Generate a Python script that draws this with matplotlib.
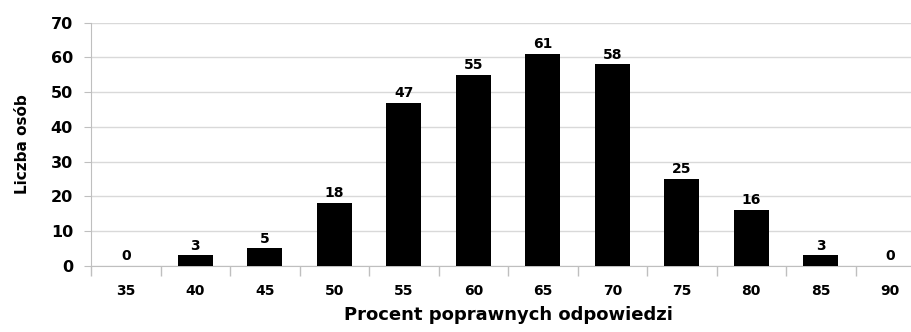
import matplotlib.pyplot as plt
import numpy as np

categories = ["35", "40", "45", "50", "55", "60", "65", "70", "75", "80", "85", "90"]
counts = [0, 3, 5, 18, 47, 55, 61, 58, 25, 16, 3, 0]

plt.rcParams['font.family'] = ['DejaVu Sans']
plt.rcParams['font.weight'] = 'bold'

fig = plt.figure(figsize=(9.12, 3.32), dpi=100)
# plot area runs slightly past the right edge, as in the reference
ax = fig.add_axes([0.0998, 0.1997, 0.9145, 0.7319])

x = np.arange(len(categories))
bars = ax.bar(x, counts, width=0.5, color='black', zorder=3)

for xi, v in zip(x, counts):
    ax.text(xi, v + 0.8, str(v), ha='center', va='bottom', fontsize=10,
            fontweight='bold')

ax.set_xlim(-0.5, len(categories) - 0.5)
ax.set_ylim(0, 70)
ax.set_yticks(np.arange(0, 71, 10))
ax.yaxis.grid(True, color='#d9d9d9', linewidth=1, zorder=0)

ax.set_xticks(x)
ax.set_xticklabels(categories, fontsize=10, fontweight='bold')
ax.tick_params(axis='x', length=0, pad=13)
# separator ticks between categories
ax.set_xticks(np.arange(-0.5, len(categories), 1), minor=True)
ax.tick_params(axis='x', which='minor', length=7, color='#bfbfbf', width=1)
ax.tick_params(axis='y', length=5, color='#bfbfbf', labelsize=11.5, pad=8)
for lbl in ax.get_yticklabels():
    lbl.set_fontweight('bold')

for s in ['top', 'right']:
    ax.spines[s].set_visible(False)
ax.spines['left'].set_color('#bfbfbf')
ax.spines['bottom'].set_color('#bfbfbf')

ax.set_ylabel("Liczba osób", fontsize=11, fontweight='bold', labelpad=15)
ax.set_xlabel("Procent poprawnych odpowiedzi", fontsize=13, fontweight='bold', labelpad=6)

fig.savefig("out.png", dpi=100)
